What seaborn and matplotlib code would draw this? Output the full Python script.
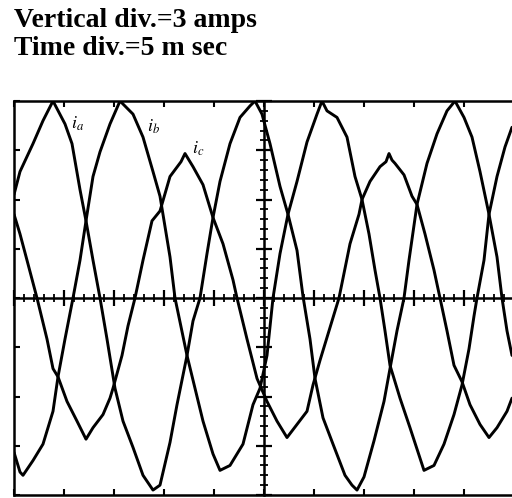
import numpy as np
import pandas as pd
import seaborn as sns
import matplotlib
matplotlib.use("Agg")
import matplotlib.pyplot as plt
from matplotlib.ticker import MultipleLocator, NullFormatter

# ---- data (time in ms, current in A) ----
t_a = [0.0, 0.6, 1.9, 2.9, 3.9, 5.1, 5.8, 6.6, 7.2, 7.9, 8.6, 9.3, 10.1, 10.9, 11.9, 12.9,
       13.9, 14.6, 15.6, 16.3, 17.3, 17.9, 18.6, 19.3, 19.9, 20.6, 21.6, 22.6, 23.6, 24.1,
       24.8, 25.6, 26.6, 27.4, 28.3, 28.9, 29.6, 30.1, 30.9, 31.9, 33.1, 33.8, 34.3, 35.0,
       36.0, 37.0, 37.6, 38.3, 39.0, 39.5, 40.3, 41.3, 42.3, 43.3, 44.1, 45.0, 45.8, 46.6,
       47.5, 48.3, 48.8, 49.3, 49.8]
i_a = [6.3, 7.7, 9.4, 10.8, 12.0, 10.6, 9.4, 6.6, 4.7, 2.3, 0.0, -2.5, -5.5, -7.5, -9.1, -10.8,
       -11.7, -11.4, -8.8, -6.5, -3.5, -1.4, 0.0, 2.7, 4.9, 7.1, 9.4, 11.0, 11.7, 12.0,
       11.2, 9.4, 6.8, 5.1, 2.9, 0.1, -2.5, -4.9, -7.3, -8.9, -10.8, -11.4, -11.7, -10.9,
       -8.7, -6.3, -4.3, -2.0, 0.0, 2.3, 5.7, 8.2, 10.0, 11.4, 12.0, 11.0, 9.8, 7.7,
       5.1, 2.5, 0.0, -2.0, -3.5]

t_b = [0.0, 0.6, 0.9, 1.9, 2.9, 3.9, 4.4, 5.1, 5.9, 6.6, 7.2, 7.9, 8.6, 9.6, 10.6, 11.9,
       12.9, 13.9, 14.6, 15.6, 16.1, 17.3, 18.9, 19.9, 20.6, 21.6, 22.9, 23.9, 24.6, 25.3,
       25.9, 26.6, 27.4, 28.3, 29.3, 30.3, 30.8, 31.3, 32.3, 33.3, 34.1, 34.8, 35.5, 36.1,
       36.6, 37.1, 37.6, 38.6, 39.6, 41.0, 42.0, 43.0, 44.0, 44.8, 45.5, 46.0, 46.3, 47.0,
       47.5, 48.3, 49.1, 49.8]
i_b = [-9.4, -10.6, -10.8, -9.9, -8.9, -6.9, -4.8, -2.5, 0.0, 2.3, 4.7, 7.4, 8.9, 10.6, 12.0, 11.2,
       9.8, 7.7, 6.2, 2.5, 0.0, -3.5, -7.5, -9.5, -10.5, -10.2, -8.9, -6.5, -5.5, -3.5,
       0.0, 2.7, 5.1, 7.1, 9.5, 11.2, 12.0, 11.4, 11.0, 9.8, 7.4, 6.0, 3.9, 1.7,
       0.0, -2.0, -4.1, -6.1, -7.9, -10.5, -10.2, -8.9, -7.1, -5.3, -3.1, -1.1, 0.0, 2.3,
       5.1, 7.4, 9.2, 10.4]

t_c = [0.0, 0.6, 1.3, 2.3, 3.3, 3.9, 4.4, 5.3, 6.3, 7.2, 7.9, 8.9, 9.6, 9.9, 10.8, 11.4,
       12.1, 12.9, 13.8, 14.6, 15.6, 16.7, 17.1, 17.4, 17.9, 18.9, 19.9, 20.9, 21.9, 22.3,
       23.3, 24.3, 25.3, 26.3, 27.3, 28.3, 29.3, 29.9, 30.6, 31.6, 32.5, 33.6, 34.5, 34.8,
       35.6, 36.6, 37.2, 37.5, 37.8, 38.1, 39.0, 39.8, 40.3, 41.1, 42.0, 42.6, 43.3, 44.0,
       44.8, 45.6, 46.6, 47.5, 48.3, 49.3, 49.8]
i_c = [5.1, 3.9, 2.3, 0.0, -2.5, -4.3, -4.8, -6.3, -7.5, -8.6, -7.9, -7.1, -6.1, -5.5, -3.5, -1.7,
       0.0, 2.3, 4.7, 5.3, 7.4, 8.3, 8.8, 8.5, 8.0, 6.9, 4.9, 3.3, 1.1, 0.0,
       -2.5, -4.9, -6.3, -7.5, -8.5, -7.7, -6.9, -5.3, -3.8, -1.8, 0.0, 3.3, 5.1, 6.0,
       7.1, 8.0, 8.3, 8.8, 8.4, 8.2, 7.5, 6.2, 5.7, 3.9, 1.7, 0.0, -2.0, -4.1,
       -5.1, -6.5, -7.7, -8.5, -7.9, -6.9, -6.1]

phase_labels = [r"$i_a$", r"$i_b$", r"$i_c$"]
header_lines = ["Vertical div.=3 amps", "Time div.=5 m sec"]

# ---- figure ----
sns.set_style("white")
plt.rcParams["font.family"] = ["Liberation Serif", "DejaVu Serif"]
plt.rcParams["mathtext.fontset"] = "stix"
plt.rcParams["text.color"] = "black"

W, H = 512, 498
fig = plt.figure(figsize=(W / 100, H / 100), dpi=100)
rect = [14 / W, 3 / H, 500 / W, 394 / H]

ax = fig.add_axes(rect)
for t, v in [(t_a, i_a), (t_b, i_b), (t_c, i_c)]:
    df = pd.DataFrame({"t": t, "i": v})
    sns.lineplot(data=df, x="t", y="i", ax=ax, color="black", linewidth=2.1,
                 estimator=None, sort=False)
ax.set_xlim(0, 50)
ax.set_ylim(-12, 12)
ax.set_xlabel("")
ax.set_ylabel("")
for s in ["left", "top", "bottom"]:
    ax.spines[s].set_visible(True)
    ax.spines[s].set_linewidth(1.8)
    ax.spines[s].set_color("black")
ax.spines["right"].set_visible(False)
ax.xaxis.set_major_locator(MultipleLocator(5))
ax.yaxis.set_major_locator(MultipleLocator(3))
ax.xaxis.set_major_formatter(NullFormatter())
ax.yaxis.set_major_formatter(NullFormatter())
ax.tick_params(axis="both", which="major", direction="in", length=4, width=1.5,
               top=True, bottom=True, left=True, right=False, color="black")

# labels of the phases
ax.text(6.4, 10.6, phase_labels[0], fontsize=13, ha="center", va="center", color="black")
ax.text(13.9, 10.4, phase_labels[1], fontsize=13, ha="center", va="center", color="black")
ax.text(18.4, 9.1, phase_labels[2], fontsize=13, ha="center", va="center", color="black")

# centre graticule lines with ticks
ax2 = fig.add_axes(rect, facecolor="none")
ax2.set_xlim(0, 50)
ax2.set_ylim(-12, 12)
ax2.spines["top"].set_visible(False)
ax2.spines["right"].set_visible(False)
ax2.spines["left"].set_position(("data", 25))
ax2.spines["bottom"].set_position(("data", 0))
for s in ["left", "bottom"]:
    ax2.spines[s].set_visible(True)
    ax2.spines[s].set_linewidth(1.8)
    ax2.spines[s].set_color("black")
ax2.xaxis.set_major_locator(MultipleLocator(5))
ax2.xaxis.set_minor_locator(MultipleLocator(1))
ax2.yaxis.set_major_locator(MultipleLocator(3))
ax2.yaxis.set_minor_locator(MultipleLocator(0.6))
ax2.xaxis.set_major_formatter(NullFormatter())
ax2.yaxis.set_major_formatter(NullFormatter())
ax2.xaxis.set_minor_formatter(NullFormatter())
ax2.yaxis.set_minor_formatter(NullFormatter())
ax2.tick_params(axis="both", which="both", bottom=True, left=True, top=False, right=False)
ax2.tick_params(axis="both", which="major", direction="inout", length=12, width=1.6, color="black")
ax2.tick_params(axis="both", which="minor", direction="inout", length=6, width=1.3, color="black")

# header text
fig.text(14 / W, 1 - 27 / H, header_lines[0], fontsize=20, fontweight="bold",
         ha="left", va="baseline", color="black")
fig.text(14 / W, 1 - 55 / H, header_lines[1], fontsize=20, fontweight="bold",
         ha="left", va="baseline", color="black")

fig.savefig("out.png", dpi=100)
